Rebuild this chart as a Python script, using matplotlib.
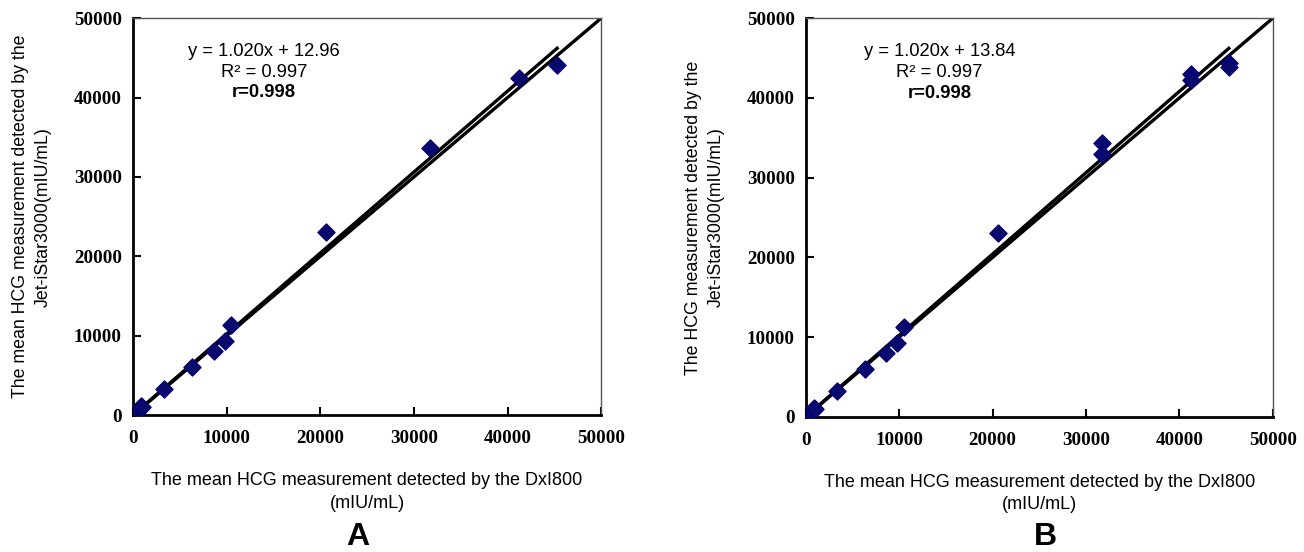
import numpy as np
import matplotlib
matplotlib.use("Agg")
import matplotlib.pyplot as plt

# Panel A: mean values, DxI800 (x) vs Jet-iStar3000 (y)
a_x = [0, 150, 400, 700, 900, 1000, 3300, 6300, 8600, 9800, 10500, 20600, 31700, 41200, 45300]
a_y = [0, 150, 450, 750, 1100, 1000, 3300, 6100, 8100, 9300, 11300, 23100, 33700, 42500, 44100]
a_fit = (1.020, 12.96)

# Panel B: individual values
b_x = [0, 150, 400, 700, 900, 1000, 3300, 6300, 8600, 9800, 10500, 20600, 31700, 31700, 41200, 41200, 45300, 45300]
b_y = [0, 150, 450, 750, 1100, 1000, 3200, 6000, 8000, 9300, 11300, 23100, 34400, 33000, 43000, 42200, 44400, 43900]
b_fit = (1.020, 13.84)

ticks = [0, 10000, 20000, 30000, 40000, 50000]

def draw_panel(ax, xs, ys, fit, ylab, text_x):
	slope, icpt = fit
	# identity line to the corner
	ax.plot([0, 50000], [0, 50000], color='black', lw=2.4, zorder=2)
	# regression trendline over the data range
	xf = np.array([0, max(xs)])
	ax.plot(xf, slope*xf + icpt, color='black', lw=2.4, zorder=2)
	ax.scatter(xs, ys, marker='D', s=75, color='#0a0a6e', edgecolors='#00007a', zorder=3)

	ax.set_xlim(0, 50000)
	ax.set_ylim(0, 50000)
	ax.set_xticks(ticks)
	ax.set_yticks(ticks)
	for lab in ax.get_xticklabels() + ax.get_yticklabels():
		lab.set_fontfamily('Liberation Serif')
		lab.set_fontweight('bold')
		lab.set_fontsize(13.7)
	ax.tick_params(direction='in', length=6, width=1.5)
	ax.tick_params(axis='x', pad=11)
	ax.tick_params(axis='y', pad=8)

	ax.spines['left'].set_linewidth(2)
	ax.spines['bottom'].set_linewidth(2)
	ax.spines['top'].set_linewidth(1)
	ax.spines['right'].set_linewidth(1)
	ax.spines['top'].set_color('#555555')
	ax.spines['right'].set_color('#555555')

	ax.set_xlabel("The mean HCG measurement detected by the DxI800\n(mIU/mL)",
		fontsize=13, family='Liberation Sans', labelpad=18, linespacing=1.4)
	ax.set_ylabel(ylab, fontsize=12.8, family='Liberation Sans', labelpad=16, linespacing=1.45)

	ax.text(text_x, 45840, "y = %.3fx + %.2f" % (slope, icpt), ha='center', va='center',
		fontsize=13.2, family='Liberation Sans')
	ax.text(text_x, 43200, "R² = 0.997", ha='center', va='center', fontsize=13.2, family='Liberation Sans')
	ax.text(text_x, 40600, "r=0.998", ha='center', va='center', fontsize=13.2,
		family='Liberation Sans', fontweight='bold')


fig = plt.figure(figsize=(13.04, 5.52), dpi=100)
axA = fig.add_axes([0.102, 0.248, 0.359, 0.719])
axB = fig.add_axes([0.618, 0.245, 0.358, 0.722])

draw_panel(axA, a_x, a_y, a_fit,
	"The mean HCG measurement detected by the\nJet-iStar3000(mIU/mL)", 14000)
draw_panel(axB, b_x, b_y, b_fit,
	"The HCG measurement detected by the\nJet-iStar3000(mIU/mL)", 14300)

# panel letters
fig.text(0.274, 0.027, "A", ha='center', va='center', fontsize=23, fontweight='bold', family='Liberation Sans')
fig.text(0.802, 0.027, "B", ha='center', va='center', fontsize=23, fontweight='bold', family='Liberation Sans')

fig.savefig("out.png", dpi=100)
